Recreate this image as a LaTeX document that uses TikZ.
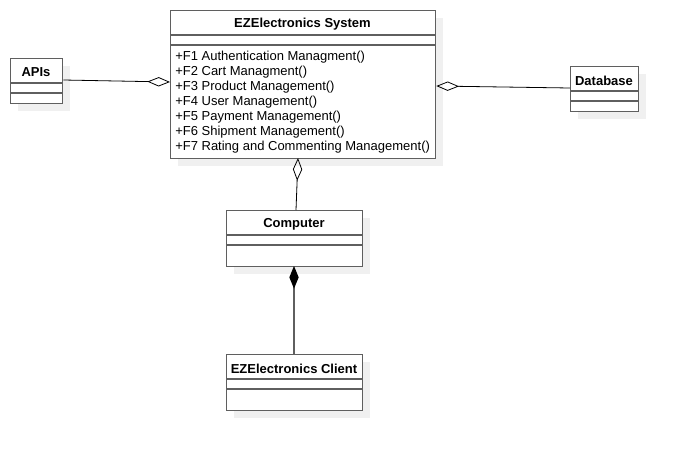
\documentclass[tikz,border=0pt]{standalone}
\usepackage{fontspec}
\setmainfont{Liberation Sans}
\usetikzlibrary{arrows.meta,shadows}
\definecolor{bordergray}{RGB}{95,95,95}
\definecolor{shadowgray}{RGB}{240,240,240}
\tikzset{
  cls/.style={draw=bordergray, line width=1pt, fill=white, inner sep=0pt, anchor=north west,
    general shadow={fill=shadowgray, shadow xshift=5.25pt, shadow yshift=-5.25pt}},
  sep/.style={draw=bordergray, line width=1pt},
  ttl/.style={font=\fontsize{9.75}{11.25}\selectfont\bfseries, inner sep=0pt},
  mth/.style={font=\fontsize{9.75}{11.25}\selectfont, align=left, inner sep=0pt, anchor=north west},
  aggr/.style={draw=black, line width=0.6pt, -{Diamond[open,length=17pt,width=7pt,line width=0.6pt]}},
  comp/.style={draw=bordergray, line width=1pt, -{Diamond[length=17pt,width=7pt,fill=black,color=black]}}
}
\begin{document}
\begin{tikzpicture}[x=0.75pt,y=-0.75pt]
\useasboundingbox[fill=white] (0,0) rectangle (678,450);
% EZElectronics System
\node[cls, minimum width=265*0.75pt, minimum height=148*0.75pt] (sys) at (170,10) {};
\node[ttl] (systitle) at (302.5,24.5) {EZElectronics System};
\draw[sep] (170,35) -- (435,35);
\draw[sep] (170,45) -- (435,45);
\node[mth] (sysmeth) at (175,50.5) {+F1 Authentication Managment()\\+F2 Cart Managment()\\+F3 Product Management()\\+F4 User Management()\\+F5 Payment Management()\\+F6 Shipment Management()\\+F7 Rating and Commenting Management()};
% APIs
\node[cls, minimum width=52*0.75pt, minimum height=45*0.75pt] (apis) at (10,58) {};
\node[ttl] (apistitle) at (36,72.5) {APIs};
\draw[sep] (10,83) -- (62,83);
\draw[sep] (10,93) -- (62,93);
% Database
\node[cls, minimum width=68*0.75pt, minimum height=45*0.75pt] (db) at (570,66) {};
\node[ttl] (dbtitle) at (604,80.5) {Database};
\draw[sep] (570,91) -- (638,91);
\draw[sep] (570,101) -- (638,101);
% Computer
\node[cls, minimum width=136*0.75pt, minimum height=56*0.75pt] (comp) at (226,210) {};
\node[ttl] (comptitle) at (294,224.5) {Computer};
\draw[sep] (226,235) -- (362,235);
\draw[sep] (226,245) -- (362,245);
% EZElectronics Client
\node[cls, minimum width=136*0.75pt, minimum height=56*0.75pt] (cli) at (226,354) {};
\node[ttl] (clititle) at (294,368.5) {EZElectronics Client};
\draw[sep] (226,379) -- (362,379);
\draw[sep] (226,389) -- (362,389);
% connectors
\coordinate (apisE) at (apis.east |- 0,80);
\coordinate (sysW) at (sys.west |- 0,82);
\coordinate (dbW) at (db.west |- 0,88);
\coordinate (sysE) at (sys.east |- 0,86);
\coordinate (compN) at (296,210);
\coordinate (sysS) at (298,158);
\coordinate (cliN) at (294,354);
\coordinate (compS) at (294,266);
\draw[aggr] (apisE) -- (sysW);
\draw[aggr] (dbW) -- (sysE);
\draw[aggr] (compN) -- (sysS);
\draw[comp] (cliN) -- (compS);
\end{tikzpicture}
\end{document}
